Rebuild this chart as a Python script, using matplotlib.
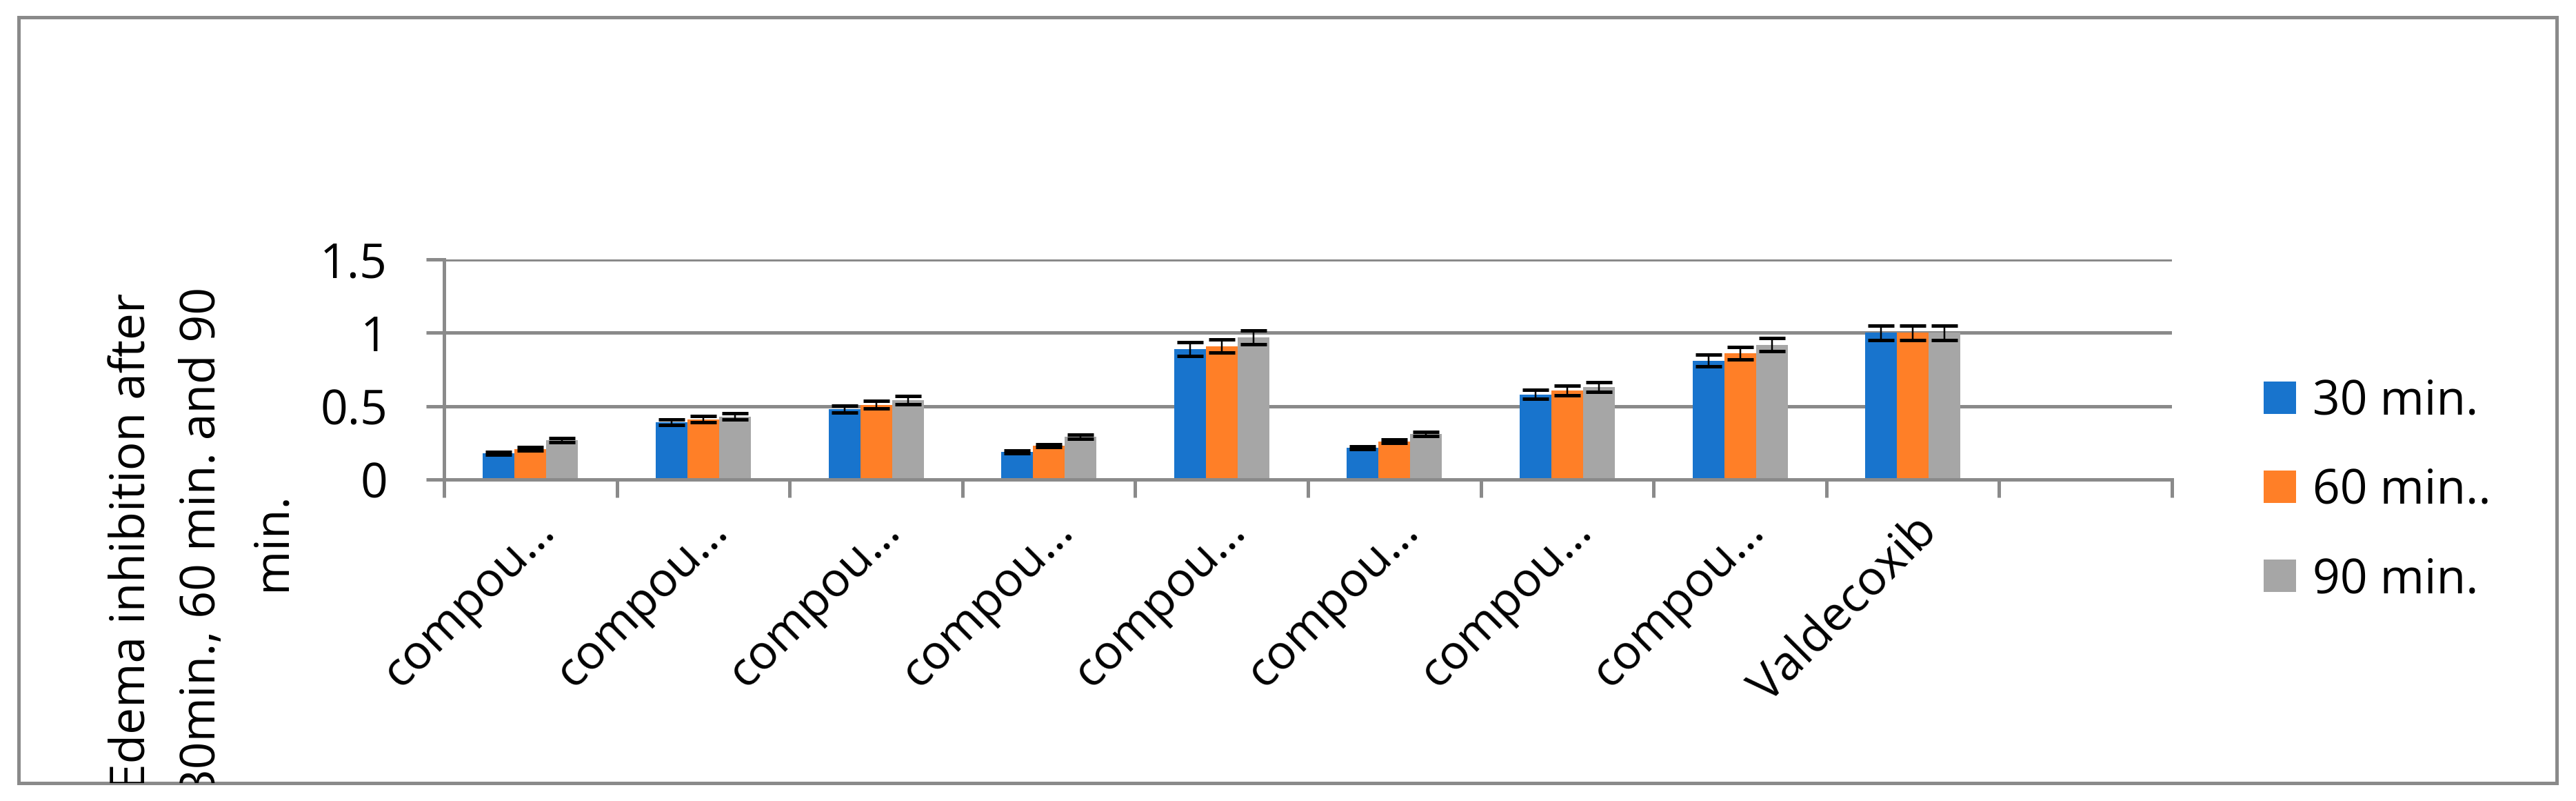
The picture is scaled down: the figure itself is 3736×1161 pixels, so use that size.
import matplotlib
matplotlib.use('Agg')  # sin GUI
import matplotlib.pyplot as plt
import matplotlib.patches as mpatches
from matplotlib.transforms import Bbox, TransformedBbox
import numpy as np

# ── Datos ──────────────────────────────────────────────────────────
categories = ['compou…'] * 8 + ['Valdecoxib', '']
series = ['30 min.', '60 min..', '90 min.']

v30 = [0.177, 0.389, 0.478, 0.187, 0.889, 0.217, 0.579, 0.810, 1.000]
v60 = [0.208, 0.410, 0.509, 0.229, 0.908, 0.259, 0.607, 0.859, 1.000]
v90 = [0.268, 0.429, 0.539, 0.290, 0.969, 0.309, 0.629, 0.918, 1.000]
e30 = [0.010, 0.019, 0.024, 0.010, 0.045, 0.011, 0.031, 0.040, 0.049]
e60 = [0.012, 0.021, 0.026, 0.010, 0.045, 0.012, 0.031, 0.042, 0.049]
e90 = [0.012, 0.021, 0.028, 0.014, 0.049, 0.014, 0.033, 0.045, 0.049]

y_ticks = [0, 0.5, 1, 1.5]
y_ticklabels = ['0', '0.5', '1', '1.5']
y_label = 'Edema inhibition after\n30min., 60 min. and 90\nmin.'

# ── Estilo ─────────────────────────────────────────────────────────
BLUE = '#1874CD'
ORANGE = '#FF7F27'
GRAY = '#A6A6A6'
LINE = '#8A8A8A'
COLORS = [BLUE, ORANGE, GRAY]

W, H, DPI = 3736, 1161, 100
PT = 72 / DPI          # puntos por pixel
FS = 50

plt.rcParams['font.family'] = ['Open Sans', 'DejaVu Sans']

fig = plt.figure(figsize=(W / DPI, H / DPI), dpi=DPI, facecolor='white')
ax = fig.add_axes([644 / W, 1 - 695 / H, (3150 - 644) / W, (695 - 376) / H])

# borde del grafico
border = mpatches.Rectangle((27 / W, 1 - 1135 / H), (3708 - 27) / W, (1135 - 25) / H,
                            transform=fig.transFigure, fill=False,
                            edgecolor=LINE, linewidth=5 * PT, zorder=0)
fig.patches.append(border)

# barras
n = len(v30)
centers = np.arange(n) + 0.5
bw = 46 / 250.6
vals = [v30, v60, v90]
errs = [e30, e60, e90]
for k in range(3):
    xs = centers + (k - 1.5) * bw + bw / 2
    ax.bar(xs, vals[k], width=bw, color=COLORS[k], linewidth=0, zorder=2,
           label=series[k])
    ax.errorbar(xs, vals[k], yerr=errs[k], fmt='none', ecolor='black',
                elinewidth=2.5 * PT, capsize=19 * PT, capthick=5 * PT, zorder=3)

ax.set_xlim(0, len(categories))
ax.set_ylim(0, 1.5)

# ejes
for s in ['top', 'right']:
    ax.spines[s].set_visible(False)
for s in ['left', 'bottom']:
    ax.spines[s].set_color(LINE)
    ax.spines[s].set_linewidth(5 * PT)
    ax.spines[s].set_capstyle('projecting')

ax.yaxis.grid(True, color=LINE, linewidth=5 * PT, zorder=1)
ax.set_axisbelow(True)

ax.set_yticks(y_ticks)
ax.set_yticklabels(y_ticklabels, fontsize=FS)
ax.tick_params(axis='y', direction='out', length=26 * PT, width=5 * PT,
               color=LINE, pad=56 * PT)

ax.set_xticks(np.arange(len(categories) + 1))
ax.set_xticklabels([])
ax.tick_params(axis='x', which='major', direction='out', length=26 * PT,
               width=5 * PT, color=LINE)
ax.set_xticks(np.arange(len(categories)) + 0.5, minor=True)
ax.set_xticklabels(categories, minor=True, fontsize=FS, rotation=45,
                   ha='right', rotation_mode='anchor')
ax.tick_params(axis='x', which='minor', length=0, pad=40 * PT)

# titulo del eje Y: tres lineas centradas, recortadas por el borde
clip = TransformedBbox(Bbox([[27 / W, 1 - 1135 / H], [3708 / W, 1 - 25 / H]]),
                       fig.transFigure)
baselines = [211, 312, 413]
for line, bx in zip(y_label.split('\n'), baselines):
    t = fig.text(bx / W, 1 - 785 / H, line, rotation=90, rotation_mode='anchor',
                 ha='center', va='baseline', fontsize=FS)
    t.set_clip_box(clip)
    t.set_clip_on(True)

# leyenda
handles = [mpatches.Patch(color=c, linewidth=0) for c in COLORS]
fig.legend(handles, series, loc='center left',
           bbox_to_anchor=(3283 / W, 1 - 712 / H), frameon=False,
           fontsize=FS, borderpad=0, borderaxespad=0,
           handlelength=47 / (FS / PT), handleheight=47 / (FS / PT),
           handletextpad=0.35, labelspacing=0.85)

plt.savefig('out.png', dpi=DPI, facecolor='white')
plt.close()
